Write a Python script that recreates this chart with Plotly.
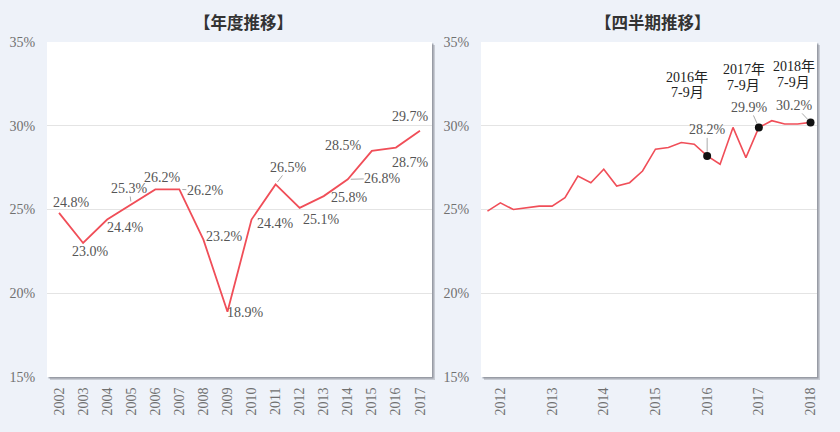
import plotly.graph_objects as go

# ---------------- data ----------------
years = ["2002", "2003", "2004", "2005", "2006", "2007", "2008", "2009",
         "2010", "2011", "2012", "2013", "2014", "2015", "2016", "2017"]
annual = [24.8, 23.0, 24.4, 25.3, 26.2, 26.2, 23.2, 18.9,
          24.4, 26.5, 25.1, 25.8, 26.8, 28.5, 28.7, 29.7]

quarters = ["2012年4-6月", "2012年7-9月", "2012年10-12月",
            "2013年1-3月", "2013年4-6月", "2013年7-9月", "2013年10-12月",
            "2014年1-3月", "2014年4-6月", "2014年7-9月", "2014年10-12月",
            "2015年1-3月", "2015年4-6月", "2015年7-9月", "2015年10-12月",
            "2016年1-3月", "2016年4-6月", "2016年7-9月", "2016年10-12月",
            "2017年1-3月", "2017年4-6月", "2017年7-9月", "2017年10-12月",
            "2018年1-3月", "2018年4-6月", "2018年7-9月"]
quarterly = [24.9, 25.4, 25.0, 25.1, 25.2, 25.2, 25.7,
             27.0, 26.6, 27.4, 26.4, 26.6, 27.3, 28.6, 28.7,
             29.0, 28.9, 28.2, 27.7, 29.9, 28.1, 29.9, 30.3,
             30.1, 30.1, 30.2]
quarter_ticks = ["2012年7-9月", "2013年7-9月", "2014年7-9月", "2015年7-9月",
                 "2016年7-9月", "2017年7-9月", "2018年7-9月"]
quarter_ticktext = ["2012", "2013", "2014", "2015", "2016", "2017", "2018"]
highlight_q = ["2016年7-9月", "2017年7-9月", "2018年7-9月"]
highlight_names = [["2016年", "7-9月"], ["2017年", "7-9月"], ["2018年", "7-9月"]]

yticks = [15, 20, 25, 30, 35]
yticktext = ["15%", "20%", "25%", "30%", "35%"]

# ---------------- styling / placement ----------------
W, H = 840, 432
ML, MR, MT, MB = 47, 23, 42, 55
PW, PH = W - ML - MR, H - MT - MB
left_px = (47, 432)
right_px = (481, 817)

def px2paper_x(px):
    return (px - ML) / PW

def px2paper_y(py):
    return (H - MB - py) / PH

LINE = "#F04E58"
LBL = "#555555"
TICK = "#707070"
BG = "#EEF2F9"
SERIF = "Liberation Serif, Times New Roman, Noto Sans CJK JP, serif"
CJK = "Noto Sans CJK JP, sans-serif"

# label offsets (dx, dy in screen px) and leader flags for the annual chart
ann_dx = [12, 7, 18, -2, 7, 26, 21, 18, 24, 13, 22, 26, 35, -28, 15, -9]
ann_dy = [-10, 8, 8, -16, -12, 1, -3, 1, 4, -17, 12, 1, -1, -5, 15, -14]
ann_leader = [False, False, False, True, False, True, False, False,
              False, True, False, False, True, False, False, False]

# highlight offsets on the quarterly chart
hq_val_dx = [0, -9, -16]
hq_val_dy = [-26, -20, -17]
hq_name_dx = [-20, -15, -17]
hq_name_dy1 = [-78, -58, -56]
hq_name_dy2 = [-63, -42, -40]

fig = go.Figure()

fig.add_trace(go.Scatter(
    x=years, y=annual, mode="lines", xaxis="x", yaxis="y",
    line=dict(color=LINE, width=1.8), hoverinfo="skip", showlegend=False))

fig.add_trace(go.Scatter(
    x=quarters, y=quarterly, mode="lines", xaxis="x2", yaxis="y2",
    line=dict(color=LINE, width=1.6), hoverinfo="skip", showlegend=False))

hq_vals = [quarterly[quarters.index(q)] for q in highlight_q]
fig.add_trace(go.Scatter(
    x=highlight_q, y=hq_vals, mode="markers", xaxis="x2", yaxis="y2",
    marker=dict(color="#111111", size=8), hoverinfo="skip", showlegend=False))

annotations = []
for i, v in enumerate(annual):
    txt = f"{v:.1f}%"
    # category axis: annotations use the serial number of the category
    if ann_leader[i]:
        annotations.append(dict(
            x=i, y=v, xref="x", yref="y", text=txt, showarrow=True,
            ax=ann_dx[i], ay=ann_dy[i], arrowhead=0, arrowwidth=1,
            arrowcolor="#AAAAAA", standoff=3, borderpad=0,
            font=dict(family=SERIF, size=14, color=LBL)))
    else:
        annotations.append(dict(
            x=i, y=v, xref="x", yref="y", text=txt, showarrow=False,
            xshift=ann_dx[i], yshift=-ann_dy[i],
            font=dict(family=SERIF, size=14, color=LBL)))

for i, (q, v) in enumerate(zip(highlight_q, hq_vals)):
    qi = quarters.index(q)
    annotations.append(dict(
        x=qi, y=v, xref="x2", yref="y2", text=f"{v:.1f}%", showarrow=True,
        ax=hq_val_dx[i], ay=hq_val_dy[i], arrowhead=0, arrowwidth=1,
        arrowcolor="#AAAAAA", standoff=4, borderpad=0,
        font=dict(family=SERIF, size=14, color=LBL)))
    annotations.append(dict(
        x=qi, y=v, xref="x2", yref="y2", text=highlight_names[i][0],
        showarrow=False, xshift=hq_name_dx[i], yshift=-hq_name_dy1[i],
        font=dict(family=SERIF, size=14, color="#222222")))
    annotations.append(dict(
        x=qi, y=v, xref="x2", yref="y2", text=highlight_names[i][1],
        showarrow=False, xshift=hq_name_dx[i], yshift=-hq_name_dy2[i],
        font=dict(family=SERIF, size=14, color="#222222")))

# titles
annotations.append(dict(
    x=px2paper_x(244), y=px2paper_y(22), xref="paper", yref="paper",
    xanchor="center", yanchor="middle",
    text="<b>【年度推移】</b>", showarrow=False,
    font=dict(family=CJK, size=16.5, color="#333333")))
annotations.append(dict(
    x=px2paper_x(653), y=px2paper_y(22), xref="paper", yref="paper",
    xanchor="center", yanchor="middle",
    text="<b>【四半期推移】</b>", showarrow=False,
    font=dict(family=CJK, size=16.5, color="#333333")))

# shadows + white plot panels
shapes = []
for (x0, x1) in (left_px, right_px):
    shapes.append(dict(type="rect", xref="paper", yref="paper", layer="below",
                       x0=px2paper_x(x0 + 3), x1=px2paper_x(x1 + 3),
                       y0=px2paper_y(MT + 3), y1=px2paper_y(H - MB + 3),
                       line=dict(width=0), fillcolor="rgba(150,155,165,0.45)"))
    shapes.append(dict(type="rect", xref="paper", yref="paper", layer="below",
                       x0=px2paper_x(x0 + 1.5), x1=px2paper_x(x1 + 1.5),
                       y0=px2paper_y(MT + 1.5), y1=px2paper_y(H - MB + 1.5),
                       line=dict(width=0), fillcolor="rgba(120,125,135,0.6)"))
    shapes.append(dict(type="rect", xref="paper", yref="paper", layer="below",
                       x0=px2paper_x(x0), x1=px2paper_x(x1),
                       y0=px2paper_y(MT), y1=px2paper_y(H - MB),
                       line=dict(width=0), fillcolor="white"))

yaxis_common = dict(
    range=[15, 35], tickmode="array", tickvals=yticks, ticktext=yticktext,
    showgrid=True, gridcolor="#E4E4E4", gridwidth=1, zeroline=False,
    showline=False, ticks="outside", ticklen=8, tickcolor="rgba(0,0,0,0)",
    tickfont=dict(family=SERIF, size=14, color=TICK), fixedrange=True)

xaxis_common = dict(
    type="category", showgrid=False, zeroline=False, showline=False,
    ticks="outside", ticklen=4, tickcolor="rgba(0,0,0,0)", tickangle=-90,
    tickfont=dict(family=SERIF, size=14, color=TICK), fixedrange=True)

fig.update_layout(
    width=W, height=H,
    margin=dict(l=ML, r=MR, t=MT, b=MB, pad=0, autoexpand=False),
    paper_bgcolor=BG, plot_bgcolor="white",
    showlegend=False,
    xaxis=dict(domain=[px2paper_x(left_px[0]), px2paper_x(left_px[1])],
               range=[-0.5, len(years) - 0.5], anchor="y", **xaxis_common),
    yaxis=dict(domain=[0, 1], anchor="x", **yaxis_common),
    xaxis2=dict(domain=[px2paper_x(right_px[0]), px2paper_x(right_px[1])],
                range=[-0.5, len(quarters) - 0.5], anchor="y2",
                tickmode="array", tickvals=quarter_ticks, ticktext=quarter_ticktext,
                **xaxis_common),
    yaxis2=dict(domain=[0, 1], anchor="x2", **yaxis_common),
    annotations=annotations,
    shapes=shapes,
)

fig.write_html("out.html",
               config={"displayModeBar": False, "staticPlot": True},
               post_script="document.body.style.margin='0';document.body.style.padding='0';")
